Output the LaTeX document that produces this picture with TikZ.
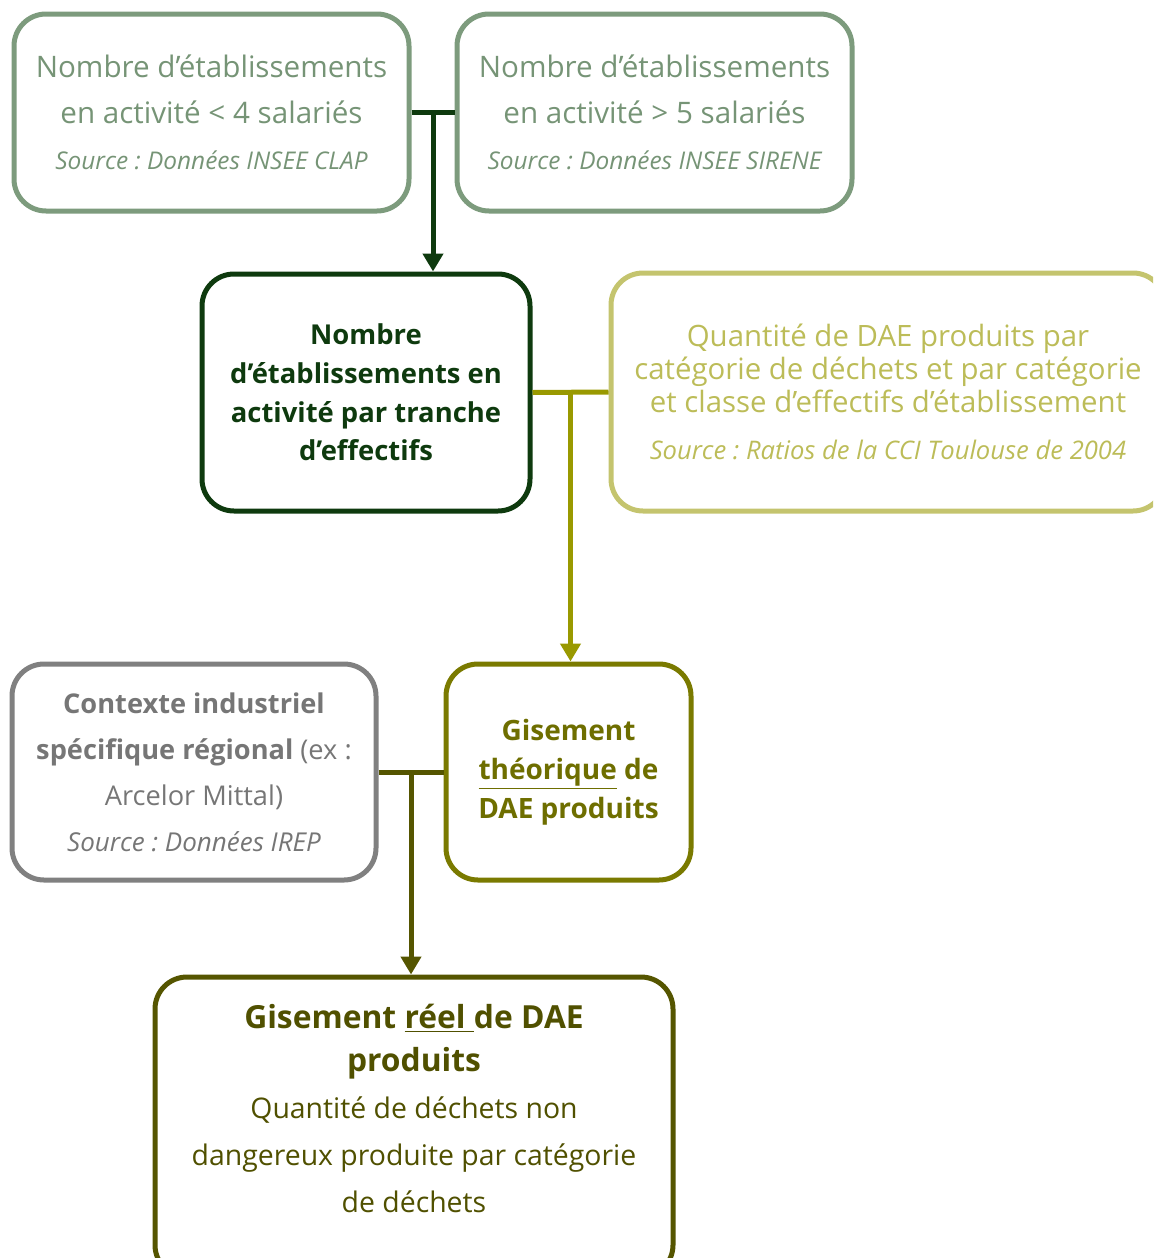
\documentclass[tikz,border=0pt]{standalone}
\usepackage{fontspec}
\setmainfont{Open Sans}
\frenchspacing
\usetikzlibrary{arrows.meta}
\usetikzlibrary{calc}

\definecolor{sagegreen}{RGB}{125,155,125}
\definecolor{sagetext}{RGB}{118,148,118}
\definecolor{darkgreen}{RGB}{14,58,14}
\definecolor{paleolive}{RGB}{196,196,110}
\definecolor{paleolivetext}{RGB}{188,188,88}
\definecolor{olive}{RGB}{153,153,0}
\definecolor{midolive}{RGB}{122,122,0}
\definecolor{midolivetext}{RGB}{110,110,0}
\definecolor{darkolive}{RGB}{85,85,0}
\definecolor{darkolivetext}{RGB}{80,80,0}
\definecolor{boxgrey}{RGB}{128,128,128}
\definecolor{greytext}{RGB}{118,118,118}

\begin{document}
\begin{tikzpicture}[x=0.5pt,y=-0.5pt,
  box/.style={draw, line width=2.5pt, rounded corners=16pt, align=center, inner sep=0pt},
  link/.style={line width=2.5pt},
  arrow/.style={link, -{Triangle[width=10pt,length=9pt]}}]

\useasboundingbox (0,0) rectangle (1153,1258);
\clip (0,0) rectangle (1153,1258);

% Sources
\node[box, draw=sagegreen, text=sagetext, minimum width=197.5pt, minimum height=98.5pt,
  font=\fontsize{14.8}{23}\selectfont] (clap) at (211.5,112.5)
  {Nombre d’établissements\\ en activité < 4 salariés\\
   {\fontsize{12.2}{14}\selectfont\itshape Source : Données INSEE CLAP}};
\node[box, draw=sagegreen, text=sagetext, minimum width=197.5pt, minimum height=98.5pt,
  font=\fontsize{14.8}{23}\selectfont] (sirene) at (654.5,112.5)
  {Nombre d’établissements\\ en activité > 5 salariés\\
   {\fontsize{12.2}{14}\selectfont\itshape Source : Données INSEE SIRENE}};

% Establishments
\node[box, draw=darkgreen, text=darkgreen, minimum width=164pt, minimum height=118.5pt,
  font=\fontsize{13.7}{19.3}\selectfont\bfseries] (tranche) at (366,392.5)
  {Nombre\\ d’établissements en\\ activité par tranche\\ d’effectifs};

% Ratios
\node[box, draw=paleolive, text=paleolivetext, minimum width=277pt, minimum height=119pt,
  font=\fontsize{14.7}{16.5}\selectfont] (ratios) at (888,392)
  {Quantité de DAE produits par\\ catégorie de déchets et par catégorie\\
   et classe d’effectifs d’établissement\\[7pt]
   {\fontsize{12.8}{14}\selectfont\itshape Source : Ratios de la CCI Toulouse de 2004}};

% Theoretical and regional context
\node[box, draw=midolive, text=midolivetext, minimum width=122.5pt, minimum height=108pt,
  font=\fontsize{14}{19.5}\selectfont\bfseries] (theo) at (568.5,772)
  {Gisement\\ \underline{théorique} de\\ DAE produits};
\node[box, draw=boxgrey, text=greytext, minimum width=182pt, minimum height=108pt,
  font=\fontsize{13.6}{23}\selectfont] (irep) at (194,772)
  {{\bfseries Contexte industriel}\\ {\bfseries spécifique régional} (ex :\\ Arcelor Mittal)\\
   {\fontsize{13}{14}\selectfont\itshape Source : Données IREP}};

% Real
\node[box, draw=darkolive, minimum width=259pt, minimum height=150pt] (reel) at (414,1127) {};
\node[align=center, text=darkolivetext, inner sep=0pt,
  font=\fontsize{14.2}{23.5}\selectfont] (reeltxt) at (414,1108)
  {{\fontsize{15.9}{18}\selectfont\bfseries Gisement \underline{réel\ }de DAE}\\[-2pt]
   {\fontsize{15.9}{18}\selectfont\bfseries produits}\\
   Quantité de déchets non\\ dangereux produite par catégorie\\ de déchets};

% Links
\coordinate (j1) at ($(clap.east)!0.5!(sirene.west)$);
\draw[link, darkgreen] (clap.east) -- (sirene.west);
\draw[arrow, darkgreen] (j1) -- (j1 |- tranche.north);

\coordinate (j2) at ($(tranche.east)!0.5!(ratios.west)$);
\draw[link, olive] (tranche.east) -- (ratios.west);
\draw[arrow, olive] (j2) -- (j2 |- theo.north);

\coordinate (j3) at ($(irep.east)!0.5!(theo.west)$);
\draw[link, darkolive] (irep.east) -- (theo.west);
\draw[arrow, darkolive] (j3) -- (j3 |- reel.north);

\end{tikzpicture}
\end{document}
